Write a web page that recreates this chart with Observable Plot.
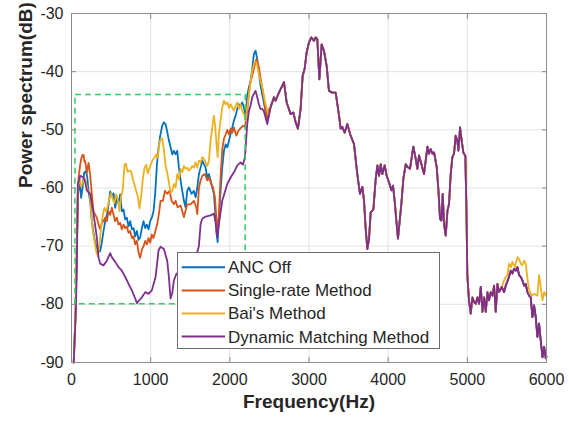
<!DOCTYPE html>
<html><head><meta charset="utf-8">
<script src="https://cdn.jsdelivr.net/npm/d3@7"></script>
<script src="https://cdn.jsdelivr.net/npm/@observablehq/plot@0.6"></script>
<style>
body{margin:0;background:#fff;}
#wrap{position:relative;width:569px;height:421px;font-family:"Liberation Sans",Arial,sans-serif;}
#legend{position:absolute;left:177px;top:252px;width:263px;height:97px;box-sizing:border-box;background:#fff;border:1px solid #6e6e6e;}
</style></head><body><div id="wrap"></div>
<script>
const seriesNames = ["ANC Off", "Single-rate Method", "Bai's Method", "Dynamic Matching Method"];
const seriesColors = ["#0072BD", "#D95319", "#EDB120", "#7E2F8E"];
const xTicks = [0, 1000, 2000, 3000, 4000, 5000, 6000];
const yTicks = [-90, -80, -70, -60, -50, -40, -30];
const xLabel = "Frequency(Hz)";
const yLabel = "Power spectrum(dB)";
const zoomBox = [{x1: 50, x2: 2200, y1: -80, y2: -44}];

// [frequency Hz, dB]
const lowOff = [[28,-90],[50,-82],[65,-72],[80,-61.1],[101,-58.9],[122,-61.7],[139,-60],[160,-57.4],[181,-57.1],[198,-58],[215,-60.6],[236,-62.3],[257,-65.7],[278,-67.7],[299,-69.4],[320,-70.3],[341,-70.9],[362,-70.9],[383,-69.4],[404,-67.4],[426,-65.7],[447,-64.6],[468,-62.9],[489,-60.6],[510,-61.4],[531,-60.9],[552,-63.4],[573,-61.7],[594,-62.6],[615,-61.1],[636,-64],[657,-63.7],[678,-65.4],[699,-65.1],[720,-66.6],[741,-65.7],[763,-67.1],[784,-66.9],[805,-68.3],[826,-67.4],[847,-68.9],[868,-68.5],[889,-66.9],[910,-65.7],[931,-66.9],[952,-66.3],[973,-67.1],[994,-65.7],[1015,-65.1],[1036,-64],[1057,-61],[1079,-56],[1100,-53],[1121,-51],[1146,-49.3],[1167,-48.7],[1188,-49],[1209,-50.3],[1230,-51.8],[1252,-53],[1273,-54.2],[1294,-53.6],[1315,-54.2],[1336,-53.6],[1357,-56.5],[1378,-58.7],[1399,-60.5],[1420,-62.2],[1441,-63.3],[1462,-60.5],[1483,-59.9],[1517,-61],[1546,-60.5],[1568,-61.6],[1589,-59.9],[1610,-57.6],[1631,-56.5],[1652,-55.3],[1673,-55.9],[1694,-56.5],[1715,-58.2],[1736,-57.6],[1757,-58.7],[1778,-59.9],[1799,-61],[1820,-65],[1833,-67.9],[1846,-69.3],[1862,-65],[1883,-60.5],[1904,-56.5],[1926,-53.6],[1947,-52.5],[1968,-53],[1989,-51.9],[2010,-50.7],[2031,-49.6],[2052,-48.4],[2073,-47.6],[2094,-46.4],[2115,-45.6],[2136,-45.9],[2157,-45.3],[2178,-46.2],[2200,-47.5],[2220,-44.1],[2241,-42.7],[2262,-41.6],[2283,-39.5],[2304,-37],[2325,-36.4],[2346,-37.8],[2367,-40.1],[2388,-42.4],[2430,-45.3],[2473,-48.5]];

const lowSingle = [[28,-90],[50,-82],[65,-72],[88,-58.3],[110,-56],[122,-55],[140,-54.3],[152,-54.3],[163,-55.5],[173,-55.4],[194,-57.4],[215,-55.7],[236,-57.7],[257,-61.1],[278,-64],[299,-64.6],[320,-65.1],[341,-66.3],[362,-67.1],[383,-66],[404,-65.7],[426,-65.1],[447,-65.7],[468,-64],[489,-64.6],[510,-63.4],[531,-64.6],[552,-65.7],[573,-65.1],[594,-66.3],[615,-66],[636,-67.1],[657,-66.3],[678,-66.9],[699,-66.6],[720,-67.7],[741,-67.4],[763,-68.6],[784,-68.3],[805,-69.7],[826,-69.1],[847,-71.1],[868,-72],[889,-70.6],[910,-70],[931,-69.1],[952,-69.7],[973,-68.6],[994,-69.4],[1015,-68],[1036,-68.6],[1057,-67.5],[1083,-66.2],[1104,-64.5],[1125,-62.2],[1155,-62.2],[1180,-60.5],[1209,-61],[1239,-60.5],[1264,-62.2],[1294,-62.8],[1315,-62.2],[1340,-63.3],[1378,-63],[1420,-65],[1462,-62.8],[1504,-62.8],[1546,-62.2],[1576,-63.3],[1589,-64.5],[1610,-59.9],[1631,-58.7],[1652,-57.9],[1686,-57.6],[1715,-58.7],[1736,-58.2],[1757,-59],[1787,-59.9],[1812,-61.6],[1829,-65],[1846,-67.3],[1862,-64.5],[1883,-58],[1904,-53.5],[1926,-51.5],[1947,-50.8],[1968,-50],[1989,-50.8],[2010,-49.8],[2031,-50.5],[2052,-49.6],[2082,-51],[2107,-50.2],[2136,-49.7],[2166,-49.3],[2191,-49.5],[2221,-46.5],[2254,-42.1],[2283,-40.7],[2312,-39],[2338,-37.8],[2367,-39.3],[2397,-41.8],[2430,-44.4],[2464,-47.9],[2494,-46.5]];

const lowBai = [[28,-90],[50,-82],[65,-72],[80,-60],[101,-58.3],[122,-59.7],[143,-59.1],[164,-58.3],[185,-59.1],[206,-60.6],[227,-60.6],[248,-64],[269,-67.4],[290,-69.1],[312,-70.9],[333,-71.7],[354,-69.7],[375,-66.6],[396,-64.6],[417,-63.4],[438,-64],[459,-63.1],[480,-61.7],[501,-60.9],[522,-62],[543,-62.6],[564,-61.1],[585,-62],[606,-64],[627,-61.4],[648,-60.3],[670,-56],[687,-55.8],[708,-57.2],[733,-57],[754,-57.2],[775,-58.5],[796,-59.5],[817,-60.5],[838,-61.5],[859,-63.5],[880,-61.4],[901,-58.5],[922,-56.5],[943,-56],[964,-57.5],[986,-56.5],[1007,-55.8],[1028,-55.1],[1049,-54.8],[1070,-54.2],[1091,-54.8],[1113,-52],[1133,-51.5],[1146,-51.5],[1167,-53.4],[1188,-56.2],[1209,-57.3],[1230,-59],[1252,-60.8],[1273,-60.5],[1294,-59.3],[1315,-59.9],[1336,-57.6],[1357,-58.5],[1378,-56.7],[1399,-57.3],[1420,-56.2],[1441,-56.7],[1462,-56.5],[1483,-57],[1504,-56.7],[1525,-56.2],[1546,-56.5],[1568,-55.6],[1589,-56.5],[1610,-55.3],[1631,-55.6],[1652,-54.7],[1673,-55],[1694,-55.6],[1715,-56.2],[1736,-55.3],[1757,-51.9],[1778,-49.6],[1799,-47.6],[1812,-49],[1829,-51.9],[1846,-54.7],[1862,-50.7],[1883,-48.4],[1904,-46.2],[1926,-45],[1947,-45.6],[1968,-45.3],[1989,-46.2],[2010,-45.6],[2031,-46.2],[2052,-46.7],[2073,-45.9],[2094,-45.3],[2115,-46.4],[2136,-45.6],[2157,-46.7],[2178,-47.3],[2200,-48.4],[2220,-46.1],[2254,-42.7],[2283,-39.8],[2312,-38.4],[2338,-38.4],[2367,-40.4],[2409,-42.7],[2451,-45.6],[2494,-47.6]];

const lowDynamic = [[28,-90],[55,-81],[67,-74],[80,-59.4],[110,-57.9],[152,-58.2],[173,-59],[194,-60.4],[236,-61],[278,-64.4],[320,-68.5],[341,-71.9],[363,-73],[404,-73.3],[446,-72.5],[489,-71.2],[510,-71.9],[552,-72.7],[594,-73.6],[636,-74.2],[679,-75.3],[721,-76.5],[763,-77.6],[805,-79],[826,-79.8],[856,-79.3],[889,-78.8],[932,-77.9],[973,-78.2],[1015,-77.6],[1062,-75.3],[1100,-70.7],[1125,-70.1],[1167,-70.5],[1209,-72.5],[1230,-75.3],[1251,-79],[1272,-78.1],[1293,-75.9],[1327,-74.7],[1380,-75],[1450,-74],[1520,-73],[1589,-71],[1609,-70],[1631,-66.2],[1651,-65.3],[1694,-64.9],[1757,-64.7],[1799,-64.4],[1820,-65.9],[1841,-68.5],[1862,-66.2],[1904,-62.2],[1968,-59.3],[2010,-58.2],[2052,-57.3],[2094,-56.1],[2136,-55.6],[2165,-56],[2191,-54.7],[2220,-49],[2241,-46.7],[2262,-45.8],[2283,-44.4],[2304,-43.8],[2325,-43.3],[2346,-44.4],[2367,-45.6],[2388,-46.4],[2409,-46.4],[2430,-46.8],[2473,-49]];

const highShared = [[2515,-46.1],[2557,-44.4],[2578,-45],[2620,-43.6],[2663,-42.4],[2684,-41.8],[2718,-45.3],[2768,-47.3],[2802,-47],[2831,-48.7],[2860,-49.8],[2894,-46.4],[2920,-40.7],[2945,-39.5],[2970,-36.7],[2999,-35],[3029,-34.1],[3063,-34.7],[3084,-34.1],[3105,-34.4],[3131,-41.3],[3160,-35.3],[3189,-36.4],[3223,-39],[3252,-43.3],[3295,-43.6],[3337,-43.6],[3379,-47.5],[3400,-49.8],[3421,-49.5],[3450,-50.5],[3484,-49],[3526,-51],[3568,-52.4],[3610,-57.6],[3644,-61],[3674,-59.8],[3695,-62.2],[3716,-67],[3737,-70.5],[3758,-68.8],[3779,-64.2],[3813,-63.7],[3843,-58.4],[3864,-56.1],[3885,-57.9],[3906,-55.9],[3927,-57.6],[3956,-56.1],[3981,-57.9],[4010,-59],[4041,-60.4],[4061,-59.6],[4082,-62.2],[4103,-65.6],[4124,-68.7],[4146,-65.6],[4167,-62.7],[4192,-58.4],[4222,-55.9],[4243,-56.4],[4276,-56.7],[4306,-53.9],[4318,-52.9],[4348,-55],[4369,-56.7],[4390,-54.4],[4420,-55.9],[4453,-57.6],[4474,-55.3],[4496,-52.9],[4516,-54.1],[4537,-53.3],[4559,-54.1],[4580,-53.9],[4613,-56.4],[4635,-60.4],[4655,-65.3],[4673,-65.6],[4689,-61],[4706,-66.2],[4727,-68.2],[4749,-63.9],[4769,-62.7],[4790,-57.6],[4811,-54.7],[4832,-54.1],[4853,-51],[4874,-51.9],[4887,-53.6],[4908,-49.6],[4929,-51.9],[4950,-53.9],[4975,-54.5],[4990,-65],[5000,-75],[5021,-79.3],[5043,-81.6],[5064,-78.8],[5085,-79.6],[5106,-79.9],[5128,-78.8],[5148,-79.9],[5170,-77],[5191,-81.3],[5212,-78.8],[5233,-81.3],[5254,-77.9],[5275,-79.3],[5296,-77.9],[5317,-78.5],[5338,-76.8],[5359,-81.3],[5380,-76.5],[5401,-77.9],[5435,-77]];

const tailShared = [[5464,-77.9],[5485,-76.8],[5519,-75.6],[5549,-74.2],[5570,-74.7],[5590,-73.9],[5612,-74.2],[5633,-73.6],[5654,-75],[5675,-75.3],[5696,-75.9],[5717,-76.8],[5738,-76.5],[5759,-77.9],[5780,-78.5],[5801,-78.8],[5822,-82.2],[5843,-80.2],[5864,-82.2],[5885,-85.6],[5906,-83.3],[5927,-86.2],[5949,-89.1],[5970,-87.3],[5991,-89.3],[6000,-89]];

const tailBai = [[5464,-75.9],[5485,-75.3],[5506,-75],[5527,-73],[5549,-73.6],[5570,-72.7],[5600,-73.6],[5633,-71.9],[5654,-72.2],[5675,-73],[5696,-73.3],[5717,-72.5],[5738,-73],[5759,-75.5],[5780,-77.5],[5814,-78.5],[5843,-78.2],[5885,-78.5],[5906,-75],[5927,-77],[5949,-79.3],[5970,-77.9],[5991,-78.5],[6000,-78]];

const seriesPoints = [
  [...lowOff, ...highShared, ...tailShared],
  [...lowSingle, ...highShared, ...tailShared],
  [...lowBai, ...highShared, ...tailBai],
  [...lowDynamic, ...highShared, ...tailShared]
];

const font = '"Liberation Sans", Arial, Helvetica, sans-serif';
const axisGrey = "#8c8c8c";
const textColor = "#262626";
const plain = d => String(d);

const lineMarks = seriesPoints.map((pts, i) =>
  Plot.line(pts.map(([f, db]) => ({f, db})), {
    x: "f", y: "db", stroke: seriesColors[i], strokeWidth: 1.8,
    strokeLinejoin: "round", strokeLinecap: "round"
  })
);

const chart = Plot.plot({
  width: 569, height: 421,
  marginLeft: 71, marginRight: 23, marginTop: 13, marginBottom: 59,
  style: {fontFamily: font, fontSize: "16px", color: textColor, background: "#fff", overflow: "visible"},
  x: {domain: [0, 6000]},
  y: {domain: [-90, -30]},
  marks: [
    Plot.gridX(xTicks, {stroke: "#e2e2e2", strokeOpacity: 1}),
    Plot.gridY(yTicks, {stroke: "#e2e2e2", strokeOpacity: 1}),
    ...lineMarks,
    Plot.rect(zoomBox, {x1: "x1", x2: "x2", y1: "y1", y2: "y2", fill: "none", stroke: "#33cc66", strokeWidth: 1.5, strokeDasharray: "6,4"}),
    Plot.frame({stroke: axisGrey}),
    Plot.axisX(xTicks, {anchor: "bottom", tickSize: 0, tickPadding: 11, fontSize: 16, fill: textColor, tickFormat: plain, label: null}),
    Plot.axisY(yTicks, {anchor: "left", tickSize: 0, tickPadding: 8, fontSize: 16, fill: textColor, tickFormat: plain, label: null}),
    Plot.axisX(xTicks, {anchor: "bottom", tickSize: -5, tickFormat: () => "", stroke: axisGrey, label: null}),
    Plot.axisX(xTicks, {anchor: "top", tickSize: -5, tickFormat: () => "", stroke: axisGrey, label: null}),
    Plot.axisY(yTicks, {anchor: "left", tickSize: -5, tickFormat: () => "", stroke: axisGrey, label: null}),
    Plot.axisY(yTicks, {anchor: "right", tickSize: -5, tickFormat: () => "", stroke: axisGrey, label: null}),
    Plot.text([xLabel], {frameAnchor: "bottom", dy: 45, fontSize: 19, fontWeight: "bold", fill: textColor}),
    Plot.text([yLabel], {frameAnchor: "left", dx: -46, rotate: -90, fontSize: 19, fontWeight: "bold", fill: textColor})
  ]
});

const wrap = d3.select("#wrap");
wrap.node().appendChild(chart);

const legend = wrap.append("div").attr("id", "legend");
const lsvg = legend.append("svg").attr("width", 261).attr("height", 95).style("display", "block");
seriesNames.forEach((name, i) => {
  const y = 14.3 + i * 23.1;
  lsvg.append("line").attr("x1", 3.7).attr("x2", 47).attr("y1", y).attr("y2", y)
    .attr("stroke", seriesColors[i]).attr("stroke-width", 2);
  lsvg.append("text").attr("x", 50).attr("y", y).attr("dy", "0.35em")
    .attr("font-family", font).attr("font-size", 17).attr("fill", textColor).text(name);
});
</script>
</body></html>
